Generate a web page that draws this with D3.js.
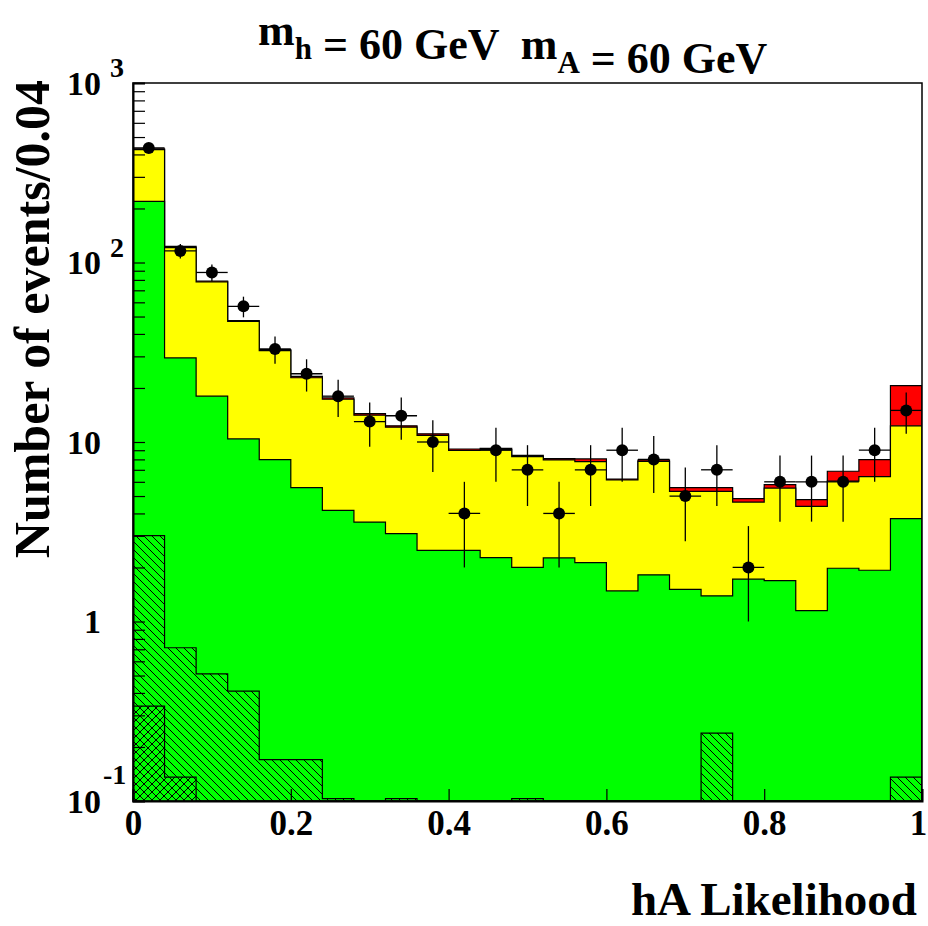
<!DOCTYPE html>
<html>
<head>
<meta charset="utf-8">
<script src="https://cdn.jsdelivr.net/npm/d3@7"></script>
<style>
  body { margin: 0; background: #fff; }
  text { font-family: "Liberation Serif", "Times New Roman", serif; font-weight: bold; }
</style>
</head>
<body>
<div id="chart"></div>
<script>
// bin edges of the hA likelihood histogram (25 bins of 0.04)
const binEdges = [0, 0.04, 0.08, 0.12, 0.16, 0.2, 0.24, 0.28, 0.32, 0.36, 0.4, 0.44, 0.48,
  0.52, 0.56, 0.6, 0.64, 0.68, 0.72, 0.76, 0.8, 0.84, 0.88, 0.92, 0.96, 1];

// signal + background (red, top of the stack)
const totalVals = [430, 123, 78.9, 47.5, 32.7, 23.2, 17.6, 14.4, 12.3, 11.1, 9.14, 9.22, 8.43,
  8.08, 8.05, 6.22, 7.94, 5.57, 5.57, 4.84, 5.79, 4.78, 6.87, 7.98, 20.6];
// all backgrounds (yellow)
const bkgVals = [425, 121, 78, 47, 32.3, 22.8, 17.3, 14.1, 12.1, 10.9, 8.98, 9.07, 8.3,
  7.95, 7.78, 6.15, 7.8, 5.31, 5.31, 4.63, 5.54, 4.38, 6.06, 6.41, 12.3];
// green component
const greenVals = [219, 29.4, 18.0, 10.4, 7.98, 5.57, 4.16, 3.58, 3.09, 2.49, 2.49, 2.27, 2.0,
  2.26, 2.13, 1.48, 1.82, 1.51, 1.39, 1.72, 1.69, 1.15, 1.98, 1.93, 3.74];
// hatched component
const hatchVals = [3.01, 0.714, 0.511, 0.409, 0.170, 0.170, 0.103, 0, 0.103, 0, 0, 0, 0.103,
  0, 0, 0, 0, 0, 0.239, 0, 0, 0, 0, 0, 0.136];
// cross hatched component
const crossVals = [0.338, 0.136, 0, 0, 0, 0, 0, 0, 0, 0, 0, 0, 0,
  0, 0, 0, 0, 0, 0, 0, 0, 0, 0, 0, 0];

// data
const dataVals = [435, 116, 88, 57, 33, 24, 18, 13, 14, 10, 4, 9, 7, 4, 7, 9, 8, 5, 7, 2, 6, 6, 6, 9, 15];
const errHi = [21, 10.8, 9.4, 7.5, 5.7, 4.9, 4.2, 3.6, 3.7, 3.2, 2, 3, 2.6, 2, 2.6, 3, 2.8, 2.2, 2.6, 1.4, 2.4, 2.4, 2.4, 3, 3.9];
const errLo = [21, 10.8, 9.4, 7.5, 5.7, 4.9, 4.2, 3.6, 3.7, 3.2, 2, 3, 2.6, 2, 2.6, 3, 2.8, 2.2, 2.6, 1.0, 2.4, 2.4, 2.4, 3, 3.9];

const xTicks = [0, 0.2, 0.4, 0.6, 0.8, 1];
const xTickLabels = ["0", "0.2", "0.4", "0.6", "0.8", "1"];
const yDecades = [0.1, 1, 10, 100, 1000];
const yDecadeLabels = [["10", "-1"], ["1", ""], ["10", ""], ["10", "2"], ["10", "3"]];

const titleParts = [["m", "h"], [" = 60 GeV  m", "A"], [" = 60 GeV", ""]];
const xTitle = "hA Likelihood";
const yTitle = "Number of events/0.04";

const W = 928, H = 926;
const margin = { left: 133, right: 922, top: 83, bottom: 801 };
const yMin = 0.1, yMax = 1000;

const svg = d3.select("#chart").append("svg")
  .attr("width", W)
  .attr("height", H);

const x = d3.scaleLinear().domain([0, 1]).range([margin.left, margin.right]);
const y = d3.scaleLog().domain([yMin, yMax]).range([margin.bottom, margin.top]);

// clip + patterns
const defs = svg.append("defs");
defs.append("clipPath").attr("id", "frame")
  .append("rect")
  .attr("x", margin.left).attr("y", margin.top)
  .attr("width", margin.right - margin.left).attr("height", margin.bottom - margin.top);

const hatch = defs.append("pattern").attr("id", "hatch")
  .attr("patternUnits", "userSpaceOnUse").attr("width", 8).attr("height", 8);
hatch.append("path").attr("d", "M-2,-2L10,10M-2,6L2,10M6,-2L10,2")
  .attr("stroke", "#000").attr("stroke-width", 1);

const cross = defs.append("pattern").attr("id", "cross")
  .attr("patternUnits", "userSpaceOnUse").attr("width", 8).attr("height", 8);
cross.append("path").attr("d", "M-2,-2L10,10M-2,6L2,10M6,-2L10,2M-2,10L10,-2M-2,2L2,-2M6,10L10,6")
  .attr("stroke", "#000").attr("stroke-width", 1);

// step histogram helpers
let stepPoints = (vals) => {
  const pts = [];
  vals.forEach((v, i) => {
    const yv = Math.max(v, yMin);
    pts.push([binEdges[i], yv], [binEdges[i + 1], yv]);
  });
  return pts;
};

const area = d3.area()
  .x((d) => x(d[0]))
  .y0(y(yMin))
  .y1((d) => y(d[1]));

const outline = d3.line()
  .x((d) => x(d[0]))
  .y((d) => y(d[1]));

const plot = svg.append("g").attr("clip-path", "url(#frame)");

let drawHist = (vals, fill) => {
  const pts = stepPoints(vals);
  plot.append("path")
    .datum(pts)
    .attr("fill", fill)
    .attr("d", area);
  plot.append("path")
    .datum([[0, yMin], ...pts, [1, yMin]])
    .attr("fill", "none")
    .attr("stroke", "#000")
    .attr("stroke-width", 1.2)
    .attr("d", outline);
};

drawHist(totalVals, "#ff0000");
drawHist(bkgVals, "#ffff00");
drawHist(greenVals, "#00ff00");
drawHist(hatchVals, "url(#hatch)");
drawHist(crossVals, "url(#cross)");

// data points with error bars
const marks = svg.append("g").attr("clip-path", "url(#frame)");
dataVals.forEach((v, i) => {
  const cx = (binEdges[i] + binEdges[i + 1]) / 2;
  marks.append("line")
    .attr("x1", x(binEdges[i])).attr("x2", x(binEdges[i + 1]))
    .attr("y1", y(v)).attr("y2", y(v))
    .attr("stroke", "#000").attr("stroke-width", 1.3);
  marks.append("line")
    .attr("x1", x(cx)).attr("x2", x(cx))
    .attr("y1", y(v + errHi[i])).attr("y2", y(Math.max(v - errLo[i], yMin)))
    .attr("stroke", "#000").attr("stroke-width", 1.3);
  marks.append("circle")
    .attr("cx", x(cx)).attr("cy", y(v)).attr("r", 6)
    .attr("fill", "#000");
});

// frame
svg.append("rect")
  .attr("x", margin.left).attr("y", margin.top)
  .attr("width", margin.right - margin.left).attr("height", margin.bottom - margin.top)
  .attr("fill", "none").attr("stroke", "#000").attr("stroke-width", 1.5);

// axes
const xAxis = svg.append("g")
  .attr("transform", `translate(0,${margin.bottom})`)
  .call(d3.axisBottom(x).tickValues(xTicks).tickSize(-12).tickPadding(9)
    .tickFormat((d, i) => xTickLabels[i]));
xAxis.select(".domain").attr("stroke-width", 2);
xAxis.selectAll(".tick line").attr("stroke-width", 1.2);
xAxis.selectAll("text")
  .attr("font-size", 35)
  .attr("font-family", "Liberation Serif")
  .attr("font-weight", "bold")
  .attr("fill", "#000")
  .attr("dx", (d) => (d === 1 ? -4 : 0)); // keep the last label inside the page

const yAxis = svg.append("g")
  .attr("transform", `translate(${margin.left},0)`)
  .call(d3.axisLeft(y).tickSize(-12).tickFormat(""));
yAxis.select(".domain").attr("stroke-width", 2);
yAxis.selectAll(".tick line").attr("stroke-width", 1.2);

// decade labels
yDecades.forEach((v, i) => {
  const [base, expo] = yDecadeLabels[i];
  const ty = y(v);
  svg.append("text")
    .attr("x", 101).attr("y", ty + 11.5)
    .attr("text-anchor", "end")
    .attr("font-size", 34)
    .text(base);
  if (expo) {
    svg.append("text")
      .attr("x", expo.startsWith("-") ? 103 : 110).attr("y", ty + (expo.startsWith("-") ? -17 : -6))
      .attr("font-size", 28)
      .text(expo);
  }
});

// title
const title = svg.append("text")
  .attr("x", 258).attr("y", 45)
  .attr("font-size", 44)
  .style("white-space", "pre");
titleParts.forEach(([main, sub]) => {
  title.append("tspan").attr("dy", 0).text(main);
  if (sub) {
    title.append("tspan").attr("font-size", 31).attr("dy", 14).text(sub);
    title.append("tspan").attr("dy", -14).text("");
  }
});

// axis titles
svg.append("text")
  .attr("x", 917).attr("y", 915)
  .attr("text-anchor", "end")
  .attr("font-size", 47)
  .text(xTitle);

svg.append("text")
  .attr("transform", "translate(49,80) rotate(-90)")
  .attr("text-anchor", "end")
  .attr("font-size", 50)
  .text(yTitle);
</script>
</body>
</html>
